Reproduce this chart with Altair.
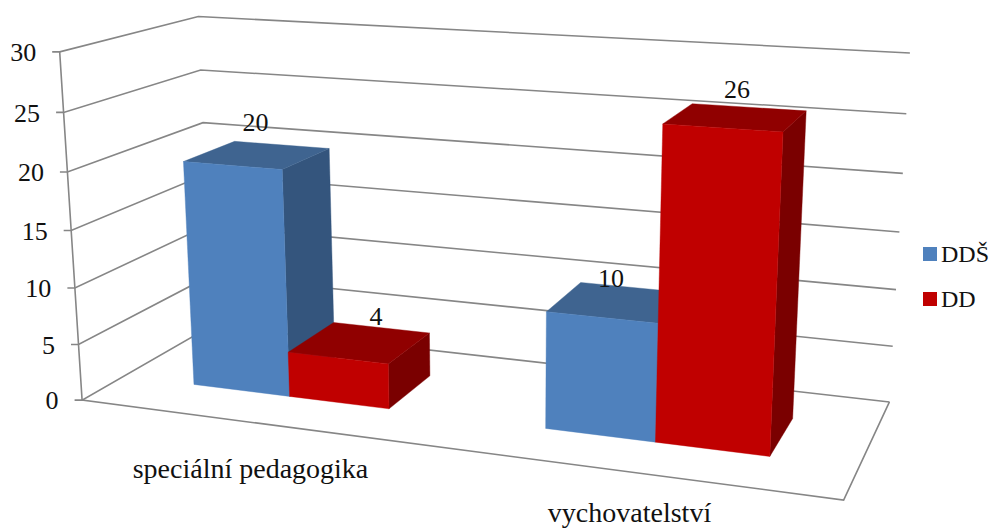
import numpy as np
import pandas as pd
import altair as alt

# ---- data
categories = ["speciální pedagogika", "vychovatelství"]
series = ["DDŠ", "DD"]
dds_values = [20, 10]
dd_values = [4, 26]
ticks = [0, 5, 10, 15, 20, 25, 30]

# ---- style
FONT = "Liberation Serif"
GRID = "#868686"
COLORS = {
    "DDŠ": {"front": "#4F81BD", "top": "#3F6490", "side": "#34557D"},
    "DD": {"front": "#C00000", "top": "#900000", "side": "#7A0000"},
}

# ---- 3D box of the chart -> page pixels (camera fitted on the box corners)
P = np.array([
    [0.8269004239997405, -0.0010811784452257078, 0.20181312509075836, 0.10480411416411863],
    [0.04133281615892362, -0.014934516385815737, -0.03996675284661348, 0.5108733781728312],
    [-0.00017235696627080808, -2.142331434931699e-06, 0.00017002481594583651, 0.001276748806569684],
])


def proj(u, v, w):
    h = P @ np.array([u, v, w, 1.0])
    return float(h[0] / h[2]), float(h[1] / h[2])


X = alt.Scale(domain=[8, 990], range=[0, 982], nice=False, zero=False)
Y = alt.Scale(domain=[529, 8], range=[521, 0], nice=False, zero=False)


def xe(f="x"):
    return alt.X(f + ":Q", scale=X, axis=None)


def ye(f="y"):
    return alt.Y(f + ":Q", scale=Y, axis=None)


def polyline(points, **mark):
    df = pd.DataFrame(points, columns=["x", "y"])
    df["i"] = range(len(df))
    return alt.Chart(df).mark_line(**mark).encode(x=xe(), y=ye(), order="i:Q")


def face(points, color):
    return polyline(points, interpolate="linear-closed", fill=color, stroke=color,
                    strokeWidth=0.4, fillOpacity=1)


layers = []

# gridlines, ticks and frame
for t in ticks:
    a, b, c = proj(0, t, 0), proj(0, t, 1), proj(1, t, 1)
    tick = (a[0] - 7.5, a[1])
    layers.append(polyline([tick, a, b, c], stroke=GRID, strokeWidth=1.6))
layers.append(polyline([proj(0, 30, 0), proj(0, 0, 0), proj(1, 0, 0), proj(1, 0, 1)],
                       stroke=GRID, strokeWidth=1.6))

# bars
W = 1 / 7
W0, W1 = 0.3, 0.7
for ci, center in enumerate([0.25, 0.75]):
    for si, (name, vals) in enumerate(zip(series, [dds_values, dd_values])):
        u0 = center - W + si * W
        u1 = u0 + W
        v = vals[ci]
        col = COLORS[name]
        layers.append(face([proj(u1, 0, W0), proj(u1, 0, W1), proj(u1, v, W1), proj(u1, v, W0)], col["side"]))
        layers.append(face([proj(u0, v, W0), proj(u1, v, W0), proj(u1, v, W1), proj(u0, v, W1)], col["top"]))
        layers.append(face([proj(u0, 0, W0), proj(u1, 0, W0), proj(u1, v, W0), proj(u0, v, W0)], col["front"]))


def text_layer(rows, align="center", size=26):
    df = pd.DataFrame(rows, columns=["x", "y", "t"])
    return alt.Chart(df).mark_text(font=FONT, fontSize=size, align=align, baseline="alphabetic",
                                   color="#111111").encode(x=xe(), y=ye(), text="t:N")


# value axis labels
layers.append(text_layer([(proj(0, t, 0)[0] - 23.5, proj(0, t, 0)[1] + 9.3, str(t)) for t in ticks], align="right"))

# data labels
label_rows = [
    (255.5, 131, str(dds_values[0])),
    (376, 325, str(dd_values[0])),
    (611, 287, str(dds_values[1])),
    (737, 98, str(dd_values[1])),
]
layers.append(text_layer(label_rows))

# category labels
layers.append(text_layer([(250.5, 478, categories[0]), (629.5, 522, categories[1])], size=28))

# legend
leg = pd.DataFrame({"x": [930, 930], "y": [254, 299], "s": series})
layers.append(alt.Chart(leg).mark_square(size=196, opacity=1).encode(
    x=xe(), y=ye(),
    color=alt.Color("s:N", scale=alt.Scale(domain=series, range=[COLORS[s]["front"] for s in series]), legend=None)))
layers.append(text_layer([(941, 262, series[0]), (941, 307, series[1])], align="left", size=24))

chart = alt.layer(*layers).properties(
    width=982, height=521, padding=0, autosize=alt.AutoSizeParams(type="none"),
).configure_view(stroke=None)

chart.save("out.html", embed_options={"renderer": "svg", "actions": False})
